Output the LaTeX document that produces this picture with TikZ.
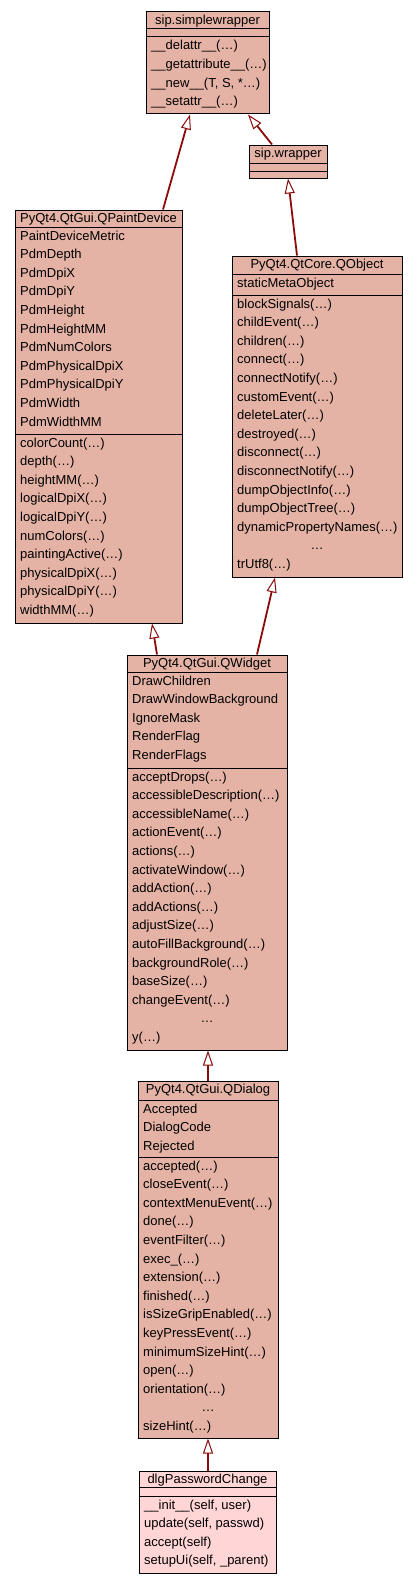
\documentclass[tikz,border=0pt]{standalone}
\usepackage{fontspec}
\setmainfont{Liberation Sans}
\usetikzlibrary{arrows.meta,fit}
\definecolor{boxfill}{HTML}{E5B3A5}
\definecolor{leaffill}{HTML}{FFD5D5}
\definecolor{edgecol}{HTML}{8B0A0A}
\newcommand\rowlist[3]{\foreach \t [count=\i from 0] in {#3} {\node[txt] at (#1,#2+18.6*\i) {\t};}}
\tikzset{
  cls/.style={draw=black, line width=1pt, fill=boxfill, inner sep=0pt},
  leaf/.style={cls, fill=leaffill},
  txt/.style={anchor=base west, inner sep=0pt, font=\fontsize{13}{15}\selectfont},
  ttl/.style={anchor=base, inner sep=0pt, font=\fontsize{13}{15}\selectfont},
  inh/.style={draw=edgecol, line width=1.8pt, -{Triangle[length=15pt,width=10pt,fill=white,line width=1pt]}},
  sep/.style={line width=1pt}
}
\begin{document}
\begin{tikzpicture}[x=1pt,y=-1pt]
\fill[white] (0,0) rectangle (419,1584);
\useasboundingbox (0,0) rectangle (419,1584);

% sip.simplewrapper
\node[cls, fit={(146,12) (269,114)}] (sw) {};
\draw[sep] (146,29) -- (269,29);
\draw[sep] (146,37) -- (269,37);
\node[ttl] (swt) at (207.5,24.5) {sip.simplewrapper};
\rowlist{151}{50}{\_\_delattr\_\_(…),\_\_getattribute\_\_(…),{\_\_new\_\_(T, S, *…)},\_\_setattr\_\_(…)}

% sip.wrapper
\node[cls, fit={(249,145) (327,178)}] (wr) {};
\draw[sep] (249,163) -- (327,163);
\draw[sep] (249,171) -- (327,171);
\node[ttl] (wrt) at (288,157.5) {sip.wrapper};

% QPaintDevice
\node[cls, fit={(15,210) (182,623)}] (pd) {};
\draw[sep] (15,227) -- (182,227);
\draw[sep] (15,434) -- (182,434);
\node[ttl] (pdt) at (98.5,222) {PyQt4.QtGui.QPaintDevice};
\rowlist{20}{240}{PaintDeviceMetric,PdmDepth,PdmDpiX,PdmDpiY,PdmHeight,PdmHeightMM,PdmNumColors,PdmPhysicalDpiX,PdmPhysicalDpiY,PdmWidth,PdmWidthMM}
\rowlist{20}{447}{colorCount(…),depth(…),heightMM(…),logicalDpiX(…),logicalDpiY(…),numColors(…),paintingActive(…),physicalDpiX(…),physicalDpiY(…),widthMM(…)}

% QObject
\node[cls, fit={(232,256) (402,577)}] (qo) {};
\draw[sep] (232,274) -- (402,274);
\draw[sep] (232,295) -- (402,295);
\node[ttl] (qot) at (317,268) {PyQt4.QtCore.QObject};
\rowlist{237}{287}{staticMetaObject}
\rowlist{237}{308}{blockSignals(…),childEvent(…),children(…),connect(…),connectNotify(…),customEvent(…),deleteLater(…),destroyed(…),disconnect(…),disconnectNotify(…),dumpObjectInfo(…),dumpObjectTree(…),dynamicPropertyNames(…)}
\node[ttl] (qoe) at (317,308+18.6*13) {…};
\node[txt] (qol) at (237,308+18.6*14) {trUtf8(…)};

% QWidget
\node[cls, fit={(127,655) (287,1050)}] (qw) {};
\draw[sep] (127,672) -- (287,672);
\draw[sep] (127,768) -- (287,768);
\node[ttl] (qwt) at (207,667) {PyQt4.QtGui.QWidget};
\rowlist{132}{685}{DrawChildren,DrawWindowBackground,IgnoreMask,RenderFlag,RenderFlags}
\rowlist{132}{781}{acceptDrops(…),accessibleDescription(…),accessibleName(…),actionEvent(…),actions(…),activateWindow(…),addAction(…),addActions(…),adjustSize(…),autoFillBackground(…),backgroundRole(…),baseSize(…),changeEvent(…)}
\node[ttl] (qwe) at (207,781+18.6*13) {…};
\node[txt] (qwl) at (132,781+18.6*14) {y(…)};

% QDialog
\node[cls, fit={(138,1081) (278,1438)}] (qd) {};
\draw[sep] (138,1100) -- (278,1100);
\draw[sep] (138,1157) -- (278,1157);
\node[ttl] (qdt) at (208,1093) {PyQt4.QtGui.QDialog};
\rowlist{143}{1113}{Accepted,DialogCode,Rejected}
\rowlist{143}{1170}{accepted(…),closeEvent(…),contextMenuEvent(…),done(…),eventFilter(…),exec\_(…),extension(…),finished(…),isSizeGripEnabled(…),keyPressEvent(…),minimumSizeHint(…),open(…),orientation(…)}
\node[ttl] (qde) at (208,1170+18.6*13) {…};
\node[txt] (qdl) at (143,1170+18.6*14) {sizeHint(…)};

% dlgPasswordChange
\node[leaf, fit={(139,1471) (276,1573)}] (dl) {};
\draw[sep] (139,1487) -- (276,1487);
\draw[sep] (139,1496) -- (276,1496);
\node[ttl] (dlt) at (207.5,1483) {dlgPasswordChange};
\rowlist{144}{1509}{{\_\_init\_\_(self, user)},{update(self, passwd)},accept(self),{setupUi(self, \_parent)}}

% inheritance edges
\draw[inh] (pd.north -| 163,0) -- (sw.south -| 190,0);
\draw[inh] (wr.north -| 272,0) -- (sw.south -| 248,0);
\draw[inh] (qo.north -| 297,0) -- (wr.south -| 288,0);
\draw[inh] (qw.north -| 157,0) -- (pd.south -| 152,0);
\draw[inh] (qw.north -| 257,0) -- (qo.south -| 275,0);
\draw[inh] (qd.north -| 208,0) -- (qw.south -| 208,0);
\draw[inh] (dl.north -| 208,0) -- (qd.south -| 208,0);
\end{tikzpicture}
\end{document}
